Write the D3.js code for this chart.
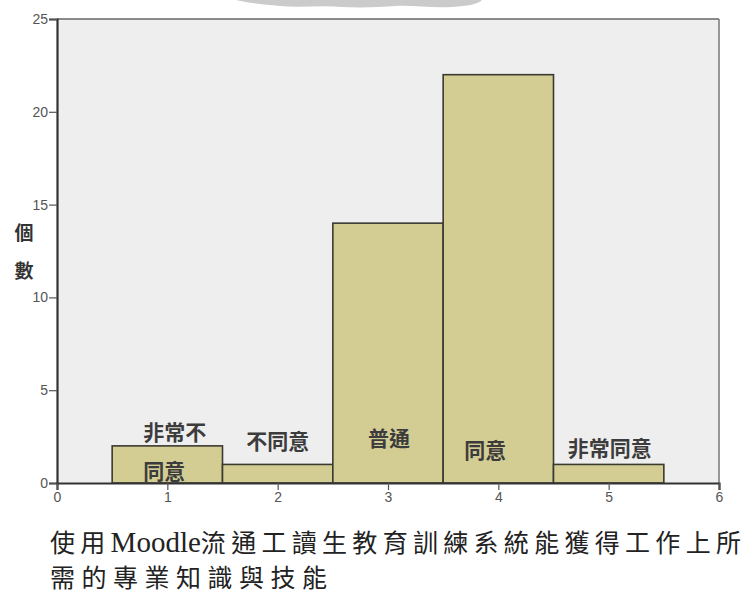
<!DOCTYPE html>
<html>
<head>
<meta charset="utf-8">
<script src="https://cdn.jsdelivr.net/npm/d3@7"></script>
<style>
  html, body { margin: 0; padding: 0; background: #ffffff; }
  svg { display: block; }
</style>
</head>
<body>
<svg id="chart" width="754" height="595"></svg>
<script>
// ---- data ----
const categories = [1, 2, 3, 4, 5];
const counts = [2, 1, 14, 22, 1];
const categoryLabels = [["非常不", "同意"], ["不同意"], ["普通"], ["同意"], ["非常同意"]];
const xTicks = [0, 1, 2, 3, 4, 5, 6];
const yTicks = [0, 5, 10, 15, 20, 25];
const yAxisTitle = ["個", "數"];
const titleLine1 = ["使用", "Moodle", "流通工讀生教育訓練系統能獲得工作上所"];
const titleLine2 = "需的專業知識與技能";

// ---- layout ----
const svg = d3.select("#chart");
const L = 57, R = 719, T = 19, B = 483;
const x = d3.scaleLinear().domain([0, 6]).range([L, R]);
const y = d3.scaleLinear().domain([0, 25]).range([B, T]);
const cjk = "'Noto Sans CJK TC', 'Noto Sans CJK SC', sans-serif";

// watermark fragment at top
svg.append("path")
  .attr("d", "M236,0 L482,0 C478,4 468,6 452,7 C430,8 412,5 396,6 C380,7 362,8 342,7 C320,5 300,8 280,6 C262,4 248,3 236,0 Z")
  .attr("fill", "#cbcbcb");

// plot background
svg.append("rect").attr("x", L).attr("y", T).attr("width", R - L).attr("height", B - T)
  .attr("fill", "#eeeeee");

// frame: top and right
svg.append("line").attr("x1", L).attr("x2", R).attr("y1", T).attr("y2", T)
  .attr("stroke", "#666").attr("stroke-width", 1.5);
svg.append("line").attr("x1", R).attr("x2", R).attr("y1", T).attr("y2", B)
  .attr("stroke", "#777").attr("stroke-width", 1.5);

// bars
svg.selectAll("rect.bar").data(categories).enter().append("rect")
  .attr("class", "bar")
  .attr("x", d => x(d - 0.5))
  .attr("width", d => x(d + 0.5) - x(d - 0.5))
  .attr("y", (d, i) => y(counts[i]))
  .attr("height", (d, i) => y(0) - y(counts[i]))
  .attr("fill", "#d3cd94")
  .attr("stroke", "#3a3a32")
  .attr("stroke-width", 1.6);

// y axis
const yAxis = d3.axisLeft(y).tickValues(yTicks).tickSize(8).tickPadding(1).tickFormat(d3.format("d"));
const gy = svg.append("g").attr("transform", `translate(${L},0)`).call(yAxis);
gy.attr("font-size", null);
gy.select(".domain").attr("stroke", "#333").attr("stroke-width", 2.2);
gy.selectAll(".tick line").attr("stroke", "#555").attr("stroke-width", 1.2);
gy.selectAll(".tick text").attr("fill", "#555").attr("font-family", "Arial, 'Liberation Sans', sans-serif")
  .attr("font-size", 14);

// x axis
const xAxis = d3.axisBottom(x).tickValues(xTicks).tickSize(7).tickPadding(2).tickFormat(d3.format("d"));
const gx = svg.append("g").attr("transform", `translate(0,${B})`).call(xAxis);
gx.attr("font-size", null);
gx.select(".domain").attr("stroke", "#333").attr("stroke-width", 2.2);
gx.selectAll(".tick line").attr("stroke", "#555").attr("stroke-width", 1.2);
gx.selectAll(".tick text").attr("fill", "#555").attr("font-family", "Arial, 'Liberation Sans', sans-serif")
  .attr("font-size", 14);

// y axis title (vertical, stacked characters)
const yTitlePos = [231, 269];
svg.selectAll("text.ytitle").data(yAxisTitle).enter().append("text")
  .attr("class", "ytitle")
  .attr("x", 24).attr("y", (d, i) => yTitlePos[i])
  .attr("text-anchor", "middle").attr("dominant-baseline", "central")
  .style("font-family", cjk).style("font-weight", "bold").style("font-size", "19px")
  .attr("fill", "#333").text(d => d);

// category labels (placed like the text boxes in the original)
const labelPlacement = [
  { dx: -24, anchor: "start", ys: [431, 470] },
  { dx: 0, anchor: "middle", ys: [440] },
  { dx: 1, anchor: "middle", ys: [437] },
  { dx: -13, anchor: "middle", ys: [449] },
  { dx: 1, anchor: "middle", ys: [447] }
];
categories.forEach((c, i) => {
  const p = labelPlacement[i];
  categoryLabels[i].forEach((line, j) => {
    svg.append("text")
      .attr("x", x(c) + p.dx).attr("y", p.ys[j])
      .attr("text-anchor", p.anchor).attr("dominant-baseline", "central")
      .style("font-family", cjk).style("font-weight", "bold").style("font-size", "21px")
      .attr("fill", "#3c3c3c").text(line);
  });
});

// x axis title (two lines)
const t1 = svg.append("text").attr("x", 50).attr("y", 552)
  .style("font-family", cjk).style("font-size", "25px").attr("fill", "#222");
t1.append("tspan").style("letter-spacing", "5.3px").text(titleLine1[0]);
t1.append("tspan").style("font-family", "'Liberation Serif', 'Times New Roman', serif")
  .style("font-size", "29px").style("letter-spacing", "0px").text(titleLine1[1]);
t1.append("tspan").style("letter-spacing", "5.3px").text(titleLine1[2]);
svg.append("text").attr("x", 50).attr("y", 587)
  .style("font-family", cjk).style("font-size", "25px").style("letter-spacing", "6.5px").attr("fill", "#222")
  .text(titleLine2);
</script>
</body>
</html>
